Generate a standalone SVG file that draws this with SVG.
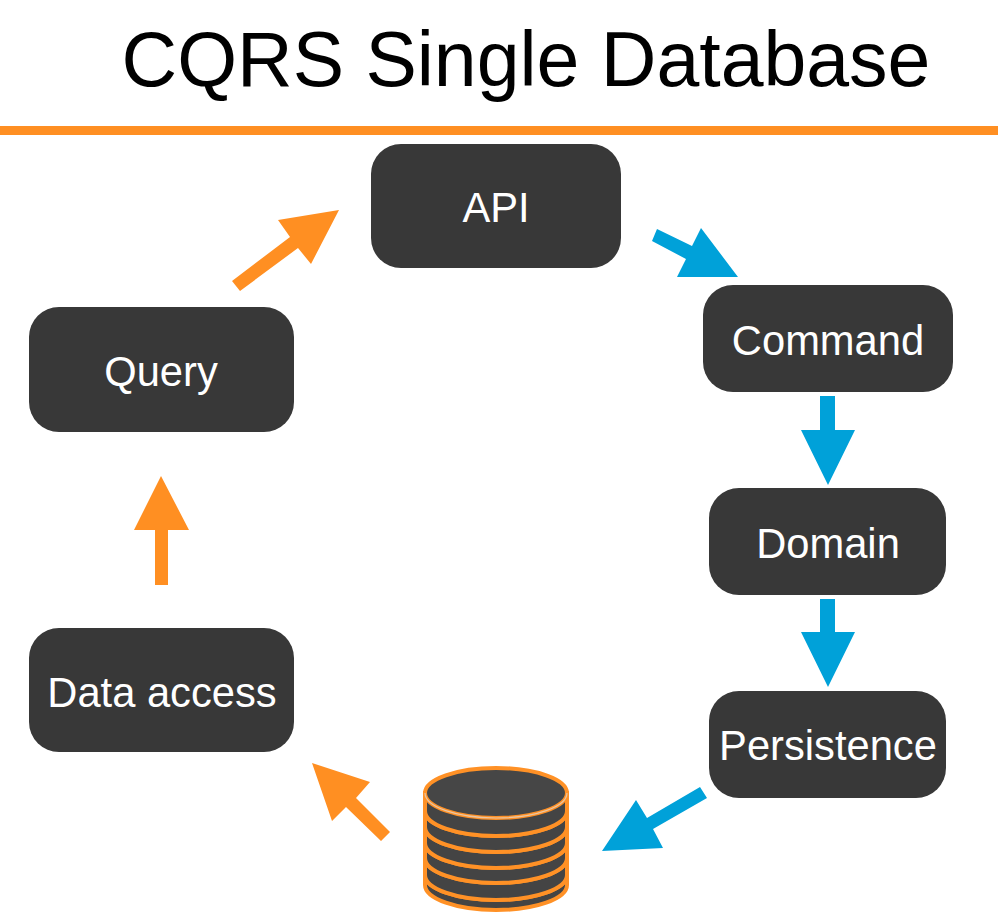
<svg xmlns="http://www.w3.org/2000/svg" width="998" height="918" viewBox="0 0 998 918">
<style>
text{font-family:"Liberation Sans",Arial,sans-serif;text-anchor:middle}
.n rect{fill:#383838}
.n text{fill:#fff;font-size:41.7px}
.b{fill:#00a1d9}
.o{fill:#ff8f22}
.d{fill:#444;stroke:#ff9126;stroke-width:4}
.c{fill:#464646;stroke:#ff9126;stroke-width:4}
.h{fill:none;stroke:#e8c6a4;stroke-width:1.2}
</style>
<rect width="998" height="918" fill="#fff"/>
<text id="title" x="526" y="86" font-size="77" fill="#000">CQRS Single Database</text>
<rect id="rule" x="0" y="126" width="998" height="9" fill="#ff8f22"/>
<g id="connectors">
<polygon class="b" points="657,229 692,246 701,228 738,277 677,277 686,259 652,241"/>
<polygon class="b" points="820,396 835,396 835,430 855,430 828,485 801,430 820,430"/>
<polygon class="b" points="820,599 835,599 835,632 855,632 828,687 801,632 820,632"/>
<polygon class="b" points="700,787 707,798 653,829 663,848 602,851 636,800 647,818"/>
<polygon class="o" points="390,832 381,841 346,807 332,821 312,763 370,782 356,798"/>
<polygon class="o" points="155,585 168,585 168,530 189,530 161,476 134,530 155,530"/>
<polygon class="o" points="232,281 240,291 298,248 311,264 339,210 278,220 290,237"/>
</g>
<g id="api" class="n"><rect x="371" y="144" width="250" height="124" rx="30"/><text x="496" y="222">API</text></g>
<g id="command" class="n"><rect x="703" y="285" width="250" height="107" rx="30"/><text x="828" y="355">Command</text></g>
<g id="domain" class="n"><rect x="709" y="488" width="237" height="107" rx="30"/><text x="828" y="558">Domain</text></g>
<g id="persistence" class="n"><rect x="709" y="691" width="237" height="107" rx="30"/><text x="828" y="760">Persistence</text></g>
<g id="query" class="n"><rect x="29" y="307" width="265" height="125" rx="30"/><text x="161" y="386">Query</text></g>
<g id="data-access" class="n"><rect x="29" y="628" width="265" height="124" rx="30"/><text x="162" y="707">Data access</text></g>
<g id="database">
<path class="d" d="M425,875V885A71,25 0 0 0 567,885V875Z"/>
<ellipse class="d" cx="496" cy="875" rx="71" ry="25"/>
<path class="h" d="M425,875A71,25 0 0 0 567,875"/>
<path class="d" d="M425,858V875A71,25 0 0 0 567,875V858Z"/>
<ellipse class="d" cx="496" cy="858" rx="71" ry="25"/>
<path class="h" d="M425,858A71,25 0 0 0 567,858"/>
<path class="d" d="M425,843V858A71,25 0 0 0 567,858V843Z"/>
<ellipse class="d" cx="496" cy="843" rx="71" ry="25"/>
<path class="h" d="M425,843A71,25 0 0 0 567,843"/>
<path class="d" d="M425,827V843A71,25 0 0 0 567,843V827Z"/>
<ellipse class="d" cx="496" cy="827" rx="71" ry="25"/>
<path class="h" d="M425,827A71,25 0 0 0 567,827"/>
<path class="d" d="M425,811V827A71,25 0 0 0 567,827V811Z"/>
<ellipse class="d" cx="496" cy="811" rx="71" ry="25"/>
<path class="h" d="M425,811A71,25 0 0 0 567,811"/>
<path class="d" d="M425,793V811A71,25 0 0 0 567,811V793Z"/>
<ellipse class="c" cx="496" cy="793" rx="71" ry="25"/>
<path class="h" d="M425,793A71,25 0 0 0 567,793"/>
</g>
</svg>
